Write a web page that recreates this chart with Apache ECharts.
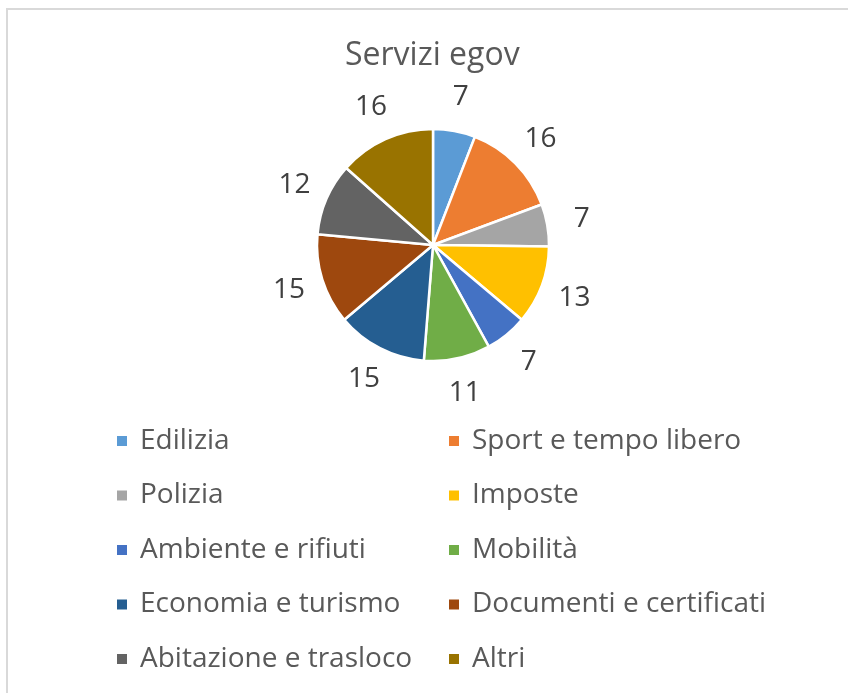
<!DOCTYPE html>
<html>
<head>
<meta charset="utf-8">
<script src="https://cdn.jsdelivr.net/npm/echarts@6/dist/echarts.min.js"></script>
<style>
  html, body { margin: 0; padding: 0; background: #fff; }
  #chart { width: 848px; height: 693px; }
</style>
</head>
<body>
<div id="chart"></div>
<script>
const categories = ['Edilizia', 'Sport e tempo libero', 'Polizia', 'Imposte', 'Ambiente e rifiuti',
    'Mobilità', 'Economia e turismo', 'Documenti e certificati', 'Abitazione e trasloco', 'Altri'];
const values = [7, 16, 7, 13, 7, 11, 15, 15, 12, 16];
const colors = ['#5B9BD5', '#ED7D31', '#A5A5A5', '#FFC000', '#4472C4',
    '#70AD47', '#255E91', '#9E480E', '#636363', '#997300'];

const FONT = '"Open Sans", sans-serif';
const pieData = categories.map((name, i) => ({ name: name, value: values[i], itemStyle: { color: colors[i] } }));

// legend in two columns, like Excel
const leftNames = categories.filter((_, i) => i % 2 === 0);
const rightNames = categories.filter((_, i) => i % 2 === 1);
const legendBase = {
    orient: 'vertical', top: 426, padding: 0, itemGap: 24.5,
    icon: 'rect', itemWidth: 12, itemHeight: 12,
    selectedMode: false,
    textStyle: { fontFamily: FONT, fontSize: 28, color: '#595959', lineHeight: 30, padding: [0, 0, 0, 7] }
};

const chart = echarts.init(document.getElementById('chart'));
chart.setOption({
    backgroundColor: '#fff',
    animation: false,
    title: {
        text: 'Servizi egov', left: 345, top: 40, padding: 0,
        textStyle: { fontFamily: FONT, fontSize: 32, fontWeight: 'normal', color: '#595959' }
    },
    legend: [
        Object.assign({}, legendBase, { left: 115, data: leftNames }),
        Object.assign({}, legendBase, { left: 447, data: rightNames })
    ],
    graphic: [{
        type: 'rect', shape: { x: 7, y: 9, width: 1000, height: 1000 },
        style: { fill: 'none', stroke: '#d9d9d9', lineWidth: 2 }, silent: true
    }],
    series: [
        {
            type: 'pie', center: [433, 245], radius: [0, 116], startAngle: 90, clockwise: true,
            data: pieData,
            itemStyle: { borderColor: '#fff', borderWidth: 2.5 },
            label: { show: false }, labelLine: { show: false }
        },
        {
            // transparent ring used only to place the value labels outside the pie
            type: 'pie', center: [433, 245], radius: [134, 162], startAngle: 90, clockwise: true,
            silent: true,
            data: pieData.map(d => ({ name: d.name, value: d.value, itemStyle: { color: 'rgba(0,0,0,0)' } })),
            label: {
                show: true, position: 'inside', formatter: '{c}',
                fontFamily: FONT, fontSize: 28, color: '#404040'
            },
            labelLine: { show: false }
        }
    ]
});
</script>
</body>
</html>
